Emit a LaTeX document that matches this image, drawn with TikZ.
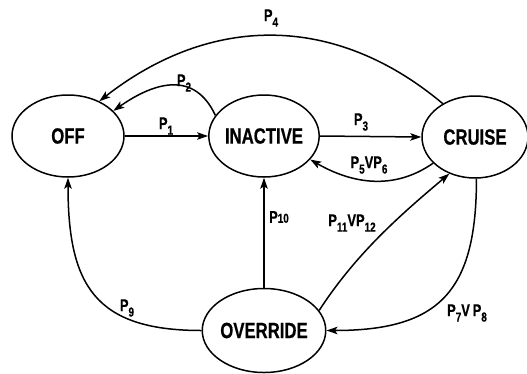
\documentclass[tikz,border=0pt]{standalone}
\usepackage{fontspec}
\setmainfont{Liberation Sans}[FakeStretch=0.76,BoldFeatures={FakeBold=0.6}]
\usetikzlibrary{shapes.geometric,arrows.meta}
\newcommand\subt[1]{\raisebox{-5.5pt}{\fontsize{13}{13}\selectfont #1}}
\tikzset{
  state/.style={ellipse,draw,line width=1.5pt,inner sep=0pt,font=\fontsize{22}{22}\selectfont\bfseries},
  lbl/.style={inner sep=0pt,font=\fontsize{17}{17}\selectfont\bfseries},
  tr/.style={line width=1.5pt,-{Stealth[length=11pt,width=7.5pt,inset=2.5pt]}}
}
\begin{document}
\begin{tikzpicture}[x=1pt,y=-1pt]
\useasboundingbox (0,0) rectangle (527,373);
\node[state,minimum width=112pt,minimum height=82pt] (off) at (68,136) {OFF};
\node[state,minimum width=110pt,minimum height=82pt] (inactive) at (264,136) {INACTIVE};
\node[state,minimum width=106pt,minimum height=82pt] (cruise) at (475,137) {CRUISE};
\node[state,minimum width=110pt,minimum height=84pt] (override) at (264,330.5) {OVERRIDE};

\draw[tr] (off.east) -- (inactive.west);
\draw[tr] (inactive.east) -- (cruise.west);
\draw[tr] (inactive.157) to[out=115,in=35,looseness=1.25] (off.29);
\draw[tr] (cruise.134) to[out=140,in=38,looseness=1.05] (off.48);
\draw[tr] (cruise.212) to[out=215,in=-30,looseness=1] (inactive.333);
\draw[tr] (override.north) -- (inactive.south);
\draw[tr] (override.20) to[out=57,in=220,looseness=0.9] (cruise.235);
\draw[tr] (cruise.272) to[out=-90,in=0,looseness=1.35] (override.east);
\draw[tr] (override.west) to[out=180,in=-90,looseness=1.35] (off.south);

\node[lbl] (l4) at (271,18) {P\subt{4}};
\node[lbl] (l2) at (184,83) {P\subt{2}};
\node[lbl] (l1) at (166,126) {P\subt{1}};
\node[lbl] (l3) at (361,122) {P\subt{3}};
\node[lbl] (l56) at (369,165) {P\subt{5}VP\subt{6}};
\node[lbl] (l10) at (279,217) {P{\fontsize{13}{13}\selectfont 10}};
\node[lbl] (l1112) at (352,223) {P\subt{11}VP\subt{12}};
\node[lbl] (l9) at (127,308) {P\subt{9}};
\node[lbl] (l78) at (467,313) {P\subt{7}V\,P\subt{8}};
\end{tikzpicture}
\end{document}
